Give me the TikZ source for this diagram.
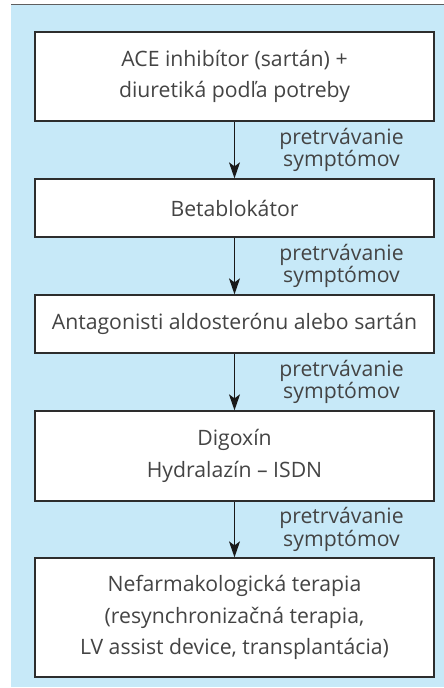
\documentclass[tikz,border=0pt]{standalone}
\usepackage{fontspec}
\setmainfont{Open Sans}
\usetikzlibrary{arrows.meta,calc}
\definecolor{bgblue}{RGB}{199,233,248}
\definecolor{boxline}{RGB}{45,45,45}
\definecolor{arrowc}{RGB}{25,25,25}
\definecolor{txt}{RGB}{68,68,68}
\definecolor{topline}{RGB}{95,95,95}
\tikzset{
  stepbox/.style={draw=boxline, line width=1.3pt, fill=white, minimum width=399pt,
    inner sep=0pt, align=center, text=txt, font=\fontsize{21.2}{31.5}\selectfont},
  flow/.style={draw=arrowc, line width=1.2pt, -{Stealth[length=16pt,width=11pt,inset=4pt]}},
  lbl/.style={text=txt, align=center, font=\fontsize{21.2}{22.5}\selectfont, inner sep=0pt}
}
\begin{document}
\begin{tikzpicture}[x=1pt,y=-1pt]
\useasboundingbox (0,0) rectangle (444,688);
\fill[bgblue] (11,5) rectangle (444,687);
\draw[topline, line width=1.3pt] (11,4.5) -- (444,4.5);
\node[stepbox, minimum height=89pt] (b1) at (234.5,76.5) {ACE inhibítor (sartán) +\\diuretiká podľa potreby};
\node[stepbox, minimum height=58pt] (b2) at (234.5,208) {Betablokátor};
\node[stepbox, minimum height=58pt] (b3) at (234.5,324) {Antagonisti aldosterónu alebo sartán};
\node[stepbox, minimum height=90pt] (b4) at (234.5,456) {Digoxín\\Hydralazín – ISDN};
\node[stepbox, minimum height=119pt] (b5) at (234.5,617.5) {Nefarmakologická terapia\\(resynchronizačná terapia,\\LV assist device, transplantácia)};
\draw[flow] (b1.south) -- node[lbl, midway, xshift=107pt] (l1) {pretrvávanie\\symptómov} (b2.north);
\draw[flow] (b2.south) -- node[lbl, midway, xshift=107pt] (l2) {pretrvávanie\\symptómov} (b3.north);
\draw[flow] (b3.south) -- node[lbl, midway, xshift=107pt] (l3) {pretrvávanie\\symptómov} (b4.north);
\draw[flow] (b4.south) -- node[lbl, midway, xshift=107pt] (l4) {pretrvávanie\\symptómov} (b5.north);
\end{tikzpicture}
\end{document}
